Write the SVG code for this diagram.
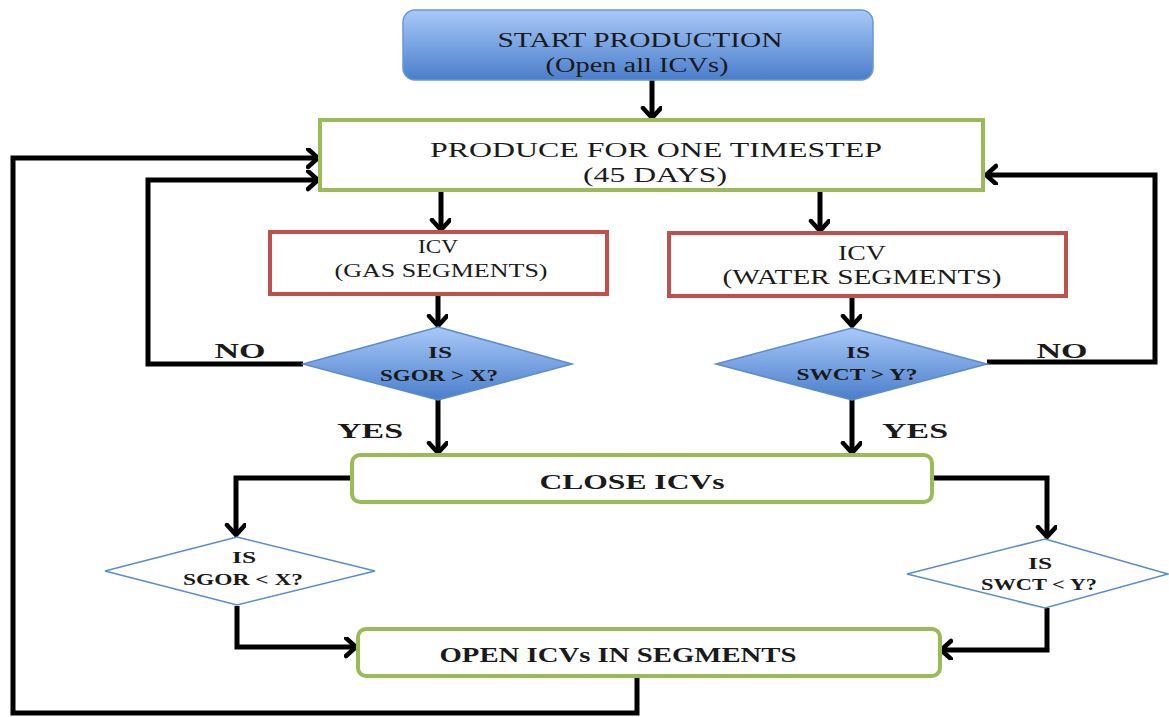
<svg xmlns="http://www.w3.org/2000/svg" width="1169" height="717" viewBox="0 0 1169 717">
<defs>
<linearGradient id="gBlue" x1="0" y1="0" x2="0" y2="1">
<stop offset="0" stop-color="#a9c9f8"/>
<stop offset="1" stop-color="#4a7ecb"/>
</linearGradient>
<marker id="arr" markerUnits="userSpaceOnUse" markerWidth="16" markerHeight="22" refX="12" refY="10" orient="auto" viewBox="0 0 16 22">
<path d="M2,1 L12,10 L2,19" fill="none" stroke="#000" stroke-width="4.5" stroke-linecap="round" stroke-linejoin="miter"/>
</marker>
<style>
.t{font-family:"Liberation Serif","Times New Roman",serif;fill:#1a1a1a;text-anchor:middle}
.b{font-weight:bold}
.green{fill:#fff;stroke:#9bbb59;stroke-width:4}
.red{fill:#fff;stroke:#c0504d;stroke-width:4}
.dia{fill:url(#gBlue);stroke:#5b8bd0;stroke-width:1.5}
.dia2{fill:#fff;stroke:#5b8bd0;stroke-width:1.5}
.c{fill:none;stroke:#000;stroke-width:5;stroke-linejoin:miter}
</style>
</defs>

<g id="connectors">
<path class="c" d="M652,80 V118" marker-end="url(#arr)"/>
<path class="c" d="M441,190 V230" marker-end="url(#arr)"/>
<path class="c" d="M820,190 V231" marker-end="url(#arr)"/>
<path class="c" d="M438,294 V326" marker-end="url(#arr)"/>
<path class="c" d="M852,296 V326" marker-end="url(#arr)"/>
<path class="c" d="M303,364 H148 V180 H318" marker-end="url(#arr)"/>
<path class="c" d="M987,362 H1155 V175 H986" marker-end="url(#arr)"/>
<path class="c" d="M637,677 V713 H13 V158 H318" marker-end="url(#arr)"/>
<path class="c" d="M438,400 V453" marker-end="url(#arr)"/>
<path class="c" d="M852,400 V453" marker-end="url(#arr)"/>
<path class="c" d="M354,478 H236 V535" marker-end="url(#arr)"/>
<path class="c" d="M932,478 H1047 V537" marker-end="url(#arr)"/>
<path class="c" d="M237,606 V647 H356" marker-end="url(#arr)"/>
<path class="c" d="M1047,608 V650 H941" marker-end="url(#arr)"/>
</g>

<g id="start">
<rect x="403" y="10" width="470" height="70" rx="12" fill="url(#gBlue)" stroke="#6a97d8" stroke-width="1.5"/>
<text class="t" x="640" y="47" font-size="20" textLength="285" lengthAdjust="spacingAndGlyphs">START PRODUCTION</text>
<text class="t" x="637" y="72" font-size="20" textLength="183" lengthAdjust="spacingAndGlyphs">(Open all ICVs)</text>
</g>

<g id="produce">
<rect class="green" x="320" y="120" width="663" height="70"/>
<text class="t" x="656" y="157" font-size="21" textLength="452" lengthAdjust="spacingAndGlyphs">PRODUCE FOR ONE TIMESTEP</text>
<text class="t" x="655" y="182" font-size="21" textLength="144" lengthAdjust="spacingAndGlyphs">(45 DAYS)</text>
</g>

<g id="icv-gas">
<rect class="red" x="270" y="232" width="337" height="62"/>
<text class="t" x="438" y="253" font-size="18" textLength="40" lengthAdjust="spacingAndGlyphs">ICV</text>
<text class="t" x="441" y="277" font-size="18" textLength="213" lengthAdjust="spacingAndGlyphs">(GAS SEGMENTS)</text>
</g>

<g id="icv-water">
<rect class="red" x="669" y="233" width="397" height="63"/>
<text class="t" x="862" y="260" font-size="20" textLength="48" lengthAdjust="spacingAndGlyphs">ICV</text>
<text class="t" x="862" y="284" font-size="20" textLength="279" lengthAdjust="spacingAndGlyphs">(WATER SEGMENTS)</text>
</g>

<g id="dec-gas">
<polygon class="dia" points="438,327 572,364 438,400 303,364"/>
<text class="t b" x="440" y="358" font-size="17" textLength="24" lengthAdjust="spacingAndGlyphs">IS</text>
<text class="t b" x="439" y="381" font-size="17" textLength="118" lengthAdjust="spacingAndGlyphs">SGOR &gt; X?</text>
</g>

<g id="dec-water">
<polygon class="dia" points="852,328 987,364 852,400 716,364"/>
<text class="t b" x="858" y="358" font-size="17" textLength="24" lengthAdjust="spacingAndGlyphs">IS</text>
<text class="t b" x="857" y="380" font-size="17" textLength="121" lengthAdjust="spacingAndGlyphs">SWCT &gt; Y?</text>
</g>

<g id="labels">
<text class="t b" x="240" y="358" font-size="20" textLength="51" lengthAdjust="spacingAndGlyphs">NO</text>
<text class="t b" x="1062" y="358" font-size="20" textLength="51" lengthAdjust="spacingAndGlyphs">NO</text>
<text class="t b" x="370" y="438" font-size="20" textLength="66" lengthAdjust="spacingAndGlyphs">YES</text>
<text class="t b" x="915" y="438" font-size="20" textLength="66" lengthAdjust="spacingAndGlyphs">YES</text>
</g>

<g id="close">
<rect class="green" x="352" y="455" width="580" height="47" rx="8"/>
<text class="t b" x="632" y="489" font-size="20" textLength="185" lengthAdjust="spacingAndGlyphs">CLOSE ICVs</text>
</g>

<g id="dec-gas-low">
<polygon class="dia2" points="237,537 375,571 237,605 105,571"/>
<text class="t b" x="244" y="563" font-size="16" textLength="24" lengthAdjust="spacingAndGlyphs">IS</text>
<text class="t b" x="243" y="585" font-size="16" textLength="120" lengthAdjust="spacingAndGlyphs">SGOR &lt; X?</text>
</g>

<g id="dec-water-low">
<polygon class="dia2" points="1045,539 1168,574 1045,608 907,574"/>
<text class="t b" x="1040" y="569" font-size="16" textLength="24" lengthAdjust="spacingAndGlyphs">IS</text>
<text class="t b" x="1039" y="590" font-size="16" textLength="116" lengthAdjust="spacingAndGlyphs">SWCT &lt; Y?</text>
</g>

<g id="open">
<rect class="green" x="358" y="629" width="582" height="47" rx="8"/>
<text class="t b" x="618" y="662" font-size="20" textLength="357" lengthAdjust="spacingAndGlyphs">OPEN ICVs IN SEGMENTS</text>
</g>
</svg>
